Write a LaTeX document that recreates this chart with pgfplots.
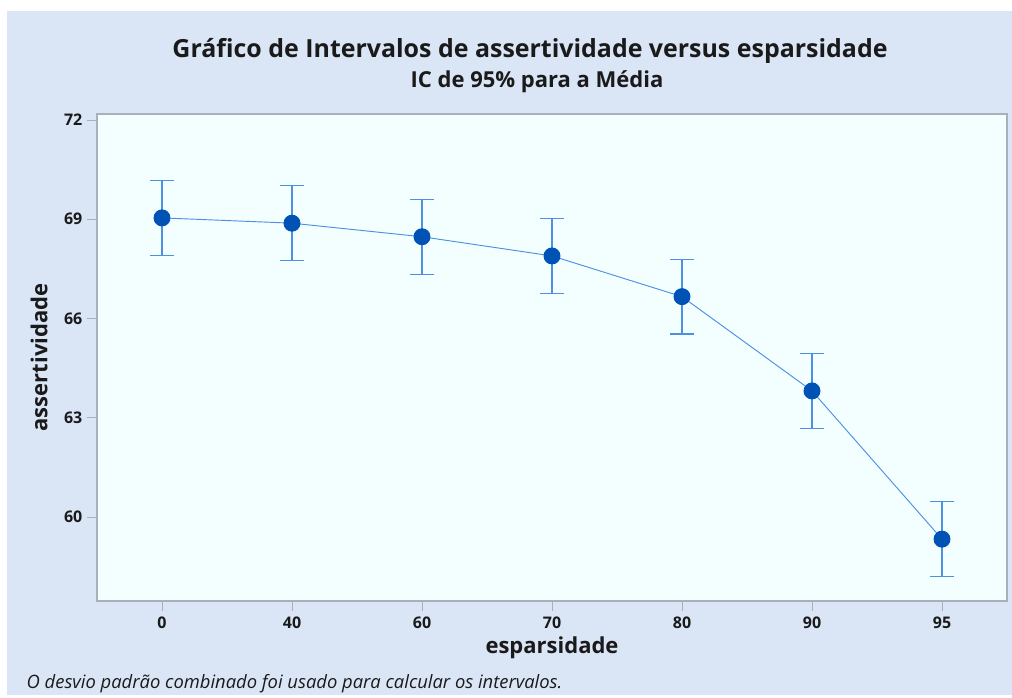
\documentclass[border=0pt]{standalone}
\usepackage{fontspec}
\setmainfont{Open Sans}
\usepackage{pgfplots}
\pgfplotsset{compat=1.18}
\definecolor{bgblue}{HTML}{DAE5F6}
\definecolor{plotbg}{HTML}{F3FFFF}
\definecolor{markblue}{HTML}{0053B5}
\definecolor{lineblue}{HTML}{4D8FE0}
\definecolor{frame}{HTML}{A9B0BC}
\definecolor{txt}{HTML}{1A1A1A}
\begin{document}
\begin{tikzpicture}[x=0.75pt,y=0.75pt]
% 1 unit = 1 px of the reference, y up from the bottom
\fill[white] (0,0) rectangle (1012,695);
\fill[bgblue] (7,0) rectangle (1012,684);
\begin{axis}[
  at={(72.75pt,70.5pt)}, anchor=south west, scale only axis,
  width=682.5pt, height=365.25pt,
  axis background/.style={fill=plotbg},
  axis line style={color=frame, line width=0.8pt},
  xmin=-0.5, xmax=6.5, ymin=57.46, ymax=72.18,
  xtick={0,1,2,3,4,5,6}, xticklabels={0,40,60,70,80,90,95},
  ytick={60,63,66,69,72},
  tick align=outside, tick pos=left,
  major tick length=7.5pt,
  tick style={color=frame, line width=0.6pt},
  tick label style={font=\fontsize{12}{14}\selectfont\bfseries, color=txt},
  /pgf/number format/assume math mode=true,
  xticklabel style={yshift=-1pt},
  xlabel={esparsidade}, ylabel={assertividade},
  label style={font=\fontsize{16.5}{19}\selectfont\bfseries, color=txt},
  xlabel style={yshift=1pt},
  ylabel style={yshift=5.5pt},
  clip=false,
]
\addplot[color=lineblue, line width=0.7pt,
  mark=*, mark size=6pt, mark options={fill=markblue, draw=markblue},
  error bars/.cd, y dir=both, y explicit,
  error bar style={color=lineblue, line width=0.9pt},
  error mark options={rotate=90, mark size=9pt, line width=0.9pt, color=lineblue}]
  coordinates {
  (0,69.04) +- (0,1.14)
  (1,68.88) +- (0,1.13)
  (2,68.47) +- (0,1.13)
  (3,67.89) +- (0,1.14)
  (4,66.66) +- (0,1.13)
  (5,63.81) +- (0,1.13)
  (6,59.33) +- (0,1.13)
  };
\end{axis}
\node[font=\fontsize{18.7}{22}\selectfont\bfseries, color=txt] at (530,644) {Gráfico de Intervalos de assertividade versus esparsidade};
\node[font=\fontsize{16.5}{19}\selectfont\bfseries, color=txt] at (537,613) {IC de 95\% para a Média};
\node[anchor=west, font=\fontsize{13.8}{16}\selectfont\itshape, color=txt] at (22,11) {O desvio padrão combinado foi usado para calcular os intervalos.};
\end{tikzpicture}
\end{document}
